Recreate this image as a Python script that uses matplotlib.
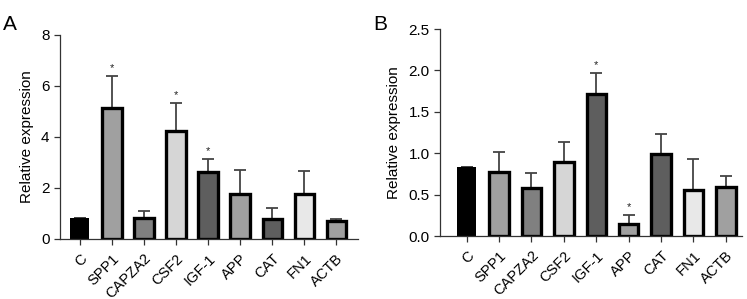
import numpy as np
import matplotlib
matplotlib.use("Agg")
import matplotlib.pyplot as plt

plt.rcParams["font.family"] = ["Liberation Sans", "DejaVu Sans"]

# ---------------------------------------------------------
# data

genes = ["C", "SPP1", "CAPZA2", "CSF2", "IGF-1", "APP", "CAT", "FN1", "ACTB"]

a_mean = [0.83, 5.14, 0.83, 4.23, 2.63, 1.75, 0.80, 1.77, 0.69]
a_err = [0.0, 1.25, 0.26, 1.09, 0.52, 0.95, 0.43, 0.89, 0.10]
a_star = [False, True, False, True, True, False, False, False, False]

b_mean = [0.83, 0.77, 0.58, 0.89, 1.72, 0.145, 0.99, 0.555, 0.59]
b_err = [0.0, 0.24, 0.18, 0.25, 0.25, 0.11, 0.24, 0.38, 0.13]
b_star = [False, False, False, False, True, True, False, False, False]

colors = ["#000000", "#a0a0a0", "#808080", "#d6d6d6", "#5e5e5e",
          "#a0a0a0", "#5e5e5e", "#e8e8e8", "#a0a0a0"]

# ---------------------------------------------------------

fig = plt.figure(figsize=(7.47, 2.99), dpi=100)


def draw_panel(ax, mean, err, star, ymax, yticks, fmt, xlim, star_off):
    x = np.arange(len(genes))
    ax.errorbar(x, mean, yerr=[np.zeros(len(err)), err], fmt="none",
                ecolor="#444444", elinewidth=1.3, capsize=4, capthick=1.3,
                zorder=1)
    bars = ax.bar(x, mean, width=0.6, color=colors, edgecolor="#000000",
                  linewidth=2.4, zorder=2)
    bars[0].set_linewidth(0)
    for i in range(len(genes)):
        if star[i]:
            ax.text(x[i], mean[i] + err[i] + star_off, "*", ha="center",
                    va="bottom", fontsize=8, color="#222222")
    ax.set_xlim(*xlim)
    ax.set_ylim(0, ymax)
    ax.set_yticks(yticks)
    ax.set_yticklabels([fmt.format(v) for v in yticks], fontsize=11)
    ax.set_xticks(x)
    ax.set_xticklabels(genes, rotation=45, ha="right",
                       rotation_mode="anchor", fontsize=10.5)
    ax.set_ylabel("Relative expression", fontsize=11, labelpad=5)
    for s in ["top", "right"]:
        ax.spines[s].set_visible(False)
    for s in ["left", "bottom"]:
        ax.spines[s].set_linewidth(0.9)
        ax.spines[s].set_color("#333333")
    ax.tick_params(direction="out", length=4, width=0.9, color="#333333")
    ax.tick_params(axis="x", pad=5)


axA = fig.add_axes([0.0803, 0.2007, 0.399, 0.6823])
draw_panel(axA, a_mean, a_err, a_star, 8, [0, 2, 4, 6, 8], "{:g}",
           (-0.62, 8.68), 0.12)

axB = fig.add_axes([0.589, 0.2107, 0.404, 0.6923])
draw_panel(axB, b_mean, b_err, b_star, 2.5, [0.0, 0.5, 1.0, 1.5, 2.0, 2.5],
           "{:.1f}", (-0.82, 8.49), 0.03)

fig.text(0.004, 0.90, "A", fontsize=15)
fig.text(0.500, 0.90, "B", fontsize=15)

plt.savefig("out.png", dpi=100)
